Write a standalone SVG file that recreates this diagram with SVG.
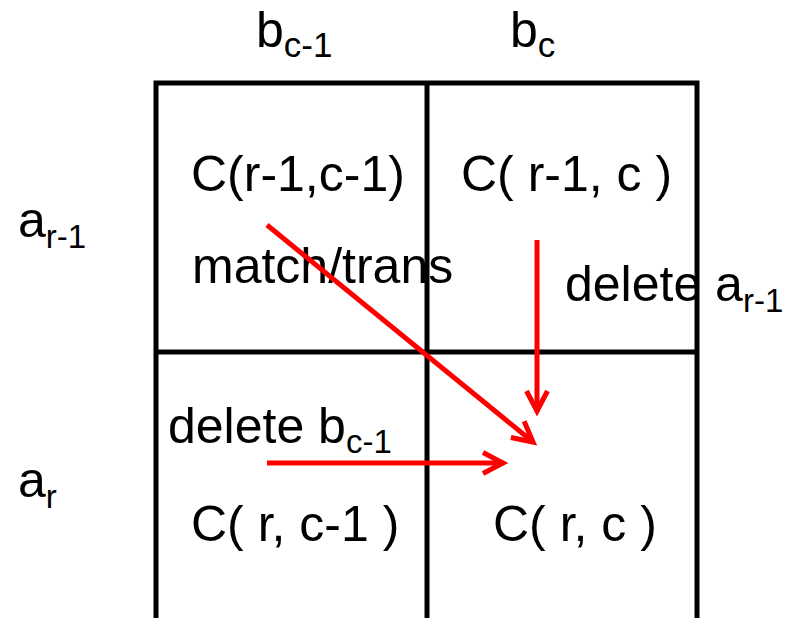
<svg xmlns="http://www.w3.org/2000/svg" width="794" height="618" viewBox="0 0 794 618">
<style>
.t{font-family:"Liberation Sans",Arial,sans-serif;font-size:50px;fill:#000}
.s{font-size:33px}
.hs{font-size:35px}
.g{stroke:#000;stroke-width:5;fill:none;stroke-linecap:square}
.a{stroke:#ff0000;stroke-width:5;fill:none}
</style>
<defs>
<marker id="ah" markerUnits="userSpaceOnUse" markerWidth="40" markerHeight="40" viewBox="-30 -20 40 40" refX="0" refY="0" orient="auto" overflow="visible">
<path d="M-20,-10.5 L0,0 L-20,10.5" fill="none" stroke="#ff0000" stroke-width="5" stroke-linejoin="miter"/>
</marker>
</defs>
<rect width="794" height="618" fill="#fff"/>
<g id="grid">
<path class="g" d="M156,83 H697 M156,352 H697 M156,83 V620 M427,83 V620 M697,83 V620"/>
</g>
<g id="header-bc-1"><text class="t" x="256" y="47">b<tspan class="hs" dy="10">c-1</tspan></text></g>
<g id="header-bc"><text class="t" x="510" y="47">b<tspan class="hs" dy="10">c</tspan></text></g>
<g id="header-ar-1"><text class="t" x="18" y="237">a<tspan class="s" dy="11">r-1</tspan></text></g>
<g id="header-ar"><text class="t" x="18" y="497">a<tspan class="s" dy="11">r</tspan></text></g>
<g id="cell-r-1-c-1">
<text class="t" x="191" y="191">C(r-1,c-1)</text>
<text class="t" x="192" y="283">match/trans</text>
</g>
<g id="cell-r-1-c">
<text class="t" x="461" y="191">C( r-1, c )</text>
<text class="t" x="565" y="301">delete a<tspan class="s" dy="11">r-1</tspan></text>
</g>
<g id="cell-r-c-1">
<text class="t" x="168" y="443">delete b<tspan class="s" dy="10">c-1</tspan></text>
<text class="t" x="191" y="541">C( r, c-1 )</text>
</g>
<g id="cell-r-c">
<text class="t" x="493" y="541">C( r, c )</text>
</g>
<g id="connectors">
<line class="a" x1="267" y1="225" x2="533" y2="442" marker-end="url(#ah)"/>
<line class="a" x1="537" y1="240" x2="537" y2="411" marker-end="url(#ah)"/>
<line class="a" x1="267" y1="463" x2="503" y2="463" marker-end="url(#ah)"/>
</g>
</svg>
